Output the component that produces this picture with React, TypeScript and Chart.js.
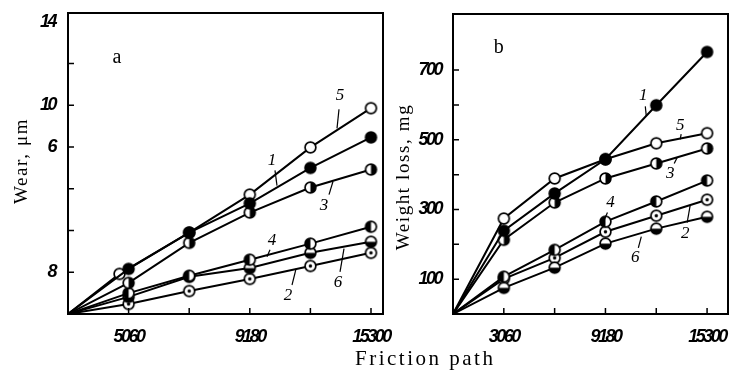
import React, { useEffect, useRef } from "react";
import { Chart, registerables } from "chart.js";

Chart.register(...registerables);

// ---- Data (friction path on x) ----
const pathX = [0, 3060, 6120, 9180, 12240, 15300];
const pathXa5 = [0, 2600, 6120, 9180, 12240, 15300];

// Panel a: wear, µm (curves 1..6)
const wearA1 = [0, 2.16, 3.9, 5.3, 7.0, 8.46];
const wearA2 = [0, 0.48, 1.1, 1.68, 2.3, 2.93];
const wearA3 = [0, 1.49, 3.41, 4.86, 6.06, 6.92];
const wearA4 = [0, 1.0, 1.83, 2.6, 3.37, 4.18];
const wearA5 = [0, 1.92, 3.9, 5.72, 7.98, 9.86];
const wearA6 = [0, 0.82, 1.78, 2.2, 2.93, 3.46];

// Panel b: weight loss, mg (curves 1..6)
const lossB1 = [0, 239, 346, 444, 599, 752];
const lossB2 = [0, 101, 161, 236, 282, 328];
const lossB3 = [0, 213, 320, 389, 432, 475];
const lossB4 = [0, 107, 184, 265, 323, 383];
const lossB5 = [0, 274, 389, 444, 490, 519];
const lossB6 = [0, 75, 133, 202, 245, 279];

// Tick values and labels as printed
const xTickValues = [3060, 6120, 9180, 12240, 15300];
const xTickLabelsA: Record<number, string> = { 3060: "5060", 9180: "9180", 15300: "15300" };
const xTickLabelsB: Record<number, string> = { 3060: "3060", 9180: "9180", 15300: "15300" };
const yTickValuesA = [2, 4, 6, 8, 10, 12, 14];
const yTickLabelsA: Record<number, string> = { 14: "14", 10: "10", 8: "6", 2: "8" };
const yTickValuesB = [100, 200, 300, 400, 500, 600, 700];
const yTickLabelsB: Record<number, string> = { 700: "700", 500: "500", 300: "300", 100: "100" };

const curveNames = ["1", "2", "3", "4", "5", "6"];

// curve number annotations: [text, x, y, leader x1, y1, x2, y2] in data units
const notesA: [string, number, number, number, number, number, number][] = [
  ["5", 13735, 10.48, 13684, 9.81, 13583, 8.89],
  ["1", 10301, 7.36, 10452, 6.88, 10553, 6.15],
  ["3", 12927, 5.19, 13179, 5.72, 13381, 6.35],
  ["4", 10301, 3.51, 10200, 3.08, 10048, 2.74],
  ["6", 13634, 1.49, 13735, 2.02, 13937, 3.13],
  ["2", 11109, 0.87, 11311, 1.39, 11513, 2.16],
];
const notesB: [string, number, number, number, number, number, number][] = [
  ["1", 11460, 628, 11580, 596, 11640, 568],
  ["5", 13680, 542, 13740, 516, 13680, 501],
  ["3", 13080, 403, 13320, 432, 13500, 449],
  ["4", 9480, 320, 9300, 291, 9060, 265],
  ["2", 13980, 230, 14100, 262, 14280, 311],
  ["6", 10980, 161, 11160, 190, 11340, 222],
];

const TICK_FONT = {
  family: "'Liberation Sans', 'DejaVu Sans', sans-serif",
  size: 18,
  style: "italic" as const,
  weight: "bold" as const,
};
const SERIF = "'Liberation Serif', 'DejaVu Serif', serif";

function makeMarker(kind: string): HTMLCanvasElement {
  const c = document.createElement("canvas");
  c.width = 15;
  c.height = 15;
  const g = c.getContext("2d")!;
  const cx = 7.5, cy = 7.5, r = 5.4;
  g.fillStyle = "#fff";
  g.beginPath();
  g.arc(cx, cy, r, 0, Math.PI * 2);
  g.fill();
  g.fillStyle = "#000";
  if (kind === "filled") {
    g.beginPath();
    g.arc(cx, cy, r, 0, Math.PI * 2);
    g.fill();
  } else if (kind === "right") {
    g.beginPath();
    g.arc(cx, cy, r, -Math.PI / 2, Math.PI / 2);
    g.closePath();
    g.fill();
  } else if (kind === "left") {
    g.beginPath();
    g.arc(cx, cy, r, Math.PI / 2, (3 * Math.PI) / 2);
    g.closePath();
    g.fill();
  } else if (kind === "bottom") {
    g.beginPath();
    g.arc(cx, cy, r, 0, Math.PI);
    g.closePath();
    g.fill();
  } else if (kind === "dot") {
    g.beginPath();
    g.arc(cx, cy, 1.7, 0, Math.PI * 2);
    g.fill();
  }
  g.strokeStyle = "#000";
  g.lineWidth = 1.7;
  g.beginPath();
  g.arc(cx, cy, r, 0, Math.PI * 2);
  g.stroke();
  return c;
}

type Note = [string, number, number, number, number, number, number];
type PanelSpec = {
  series: { name: string; xs: number[]; ys: number[]; marker: string }[];
  xMax: number;
  yMax: number;
  xLabels: Record<number, string>;
  yValues: number[];
  yLabels: Record<number, string>;
  notes: Note[];
  panelLetter: string;
  letterPos: [number, number];
  yTitle: string;
  yTitlePos: [number, number];
  padding: { left: number; top: number; right: number; bottom: number };
  yWidth: number;
  xHeight: number;
  yPad: number;
};

function buildChart(canvas: HTMLCanvasElement, spec: PanelSpec) {
  const markers: Record<string, HTMLCanvasElement> = {};
  ["filled", "open", "right", "left", "bottom", "dot"].forEach((k) => (markers[k] = makeMarker(k)));

  const datasets = spec.series.map((s) => ({
    label: s.name,
    data: s.xs.map((x, i) => ({ x, y: s.ys[i] })),
    borderColor: "#000",
    borderWidth: 2,
    pointStyle: markers[s.marker],
    pointRadius: (ctx: any) => (ctx.dataIndex === 0 ? 0 : 6),
    tension: 0,
    fill: false,
  }));

  const deco = {
    id: "deco",
    beforeDraw(chart: any) {
      // condensed look of the printed tick numerals
      (chart.ctx as any).letterSpacing = "-2.5px";
    },
    beforeDatasetsDraw(chart: any) {
      (chart.ctx as any).letterSpacing = "0px";
    },
    afterDraw(chart: any) {
      const { ctx, chartArea } = chart;
      const xs = chart.scales.x;
      const ys = chart.scales.y;
      ctx.save();
      (ctx as any).letterSpacing = "0px";
      ctx.strokeStyle = "#000";
      ctx.lineWidth = 2;
      ctx.strokeRect(chartArea.left, chartArea.top, chartArea.right - chartArea.left, chartArea.bottom - chartArea.top);
      ctx.lineWidth = 1.5;
      ctx.beginPath();
      xs.ticks.forEach((t: any) => {
        const px = xs.getPixelForValue(t.value);
        ctx.moveTo(px, chartArea.bottom);
        ctx.lineTo(px, chartArea.bottom - 6);
      });
      ys.ticks.forEach((t: any) => {
        const py = ys.getPixelForValue(t.value);
        if (py < chartArea.top + 12) return;
        ctx.moveTo(chartArea.left, py);
        ctx.lineTo(chartArea.left + 6, py);
      });
      ctx.stroke();

      // curve number labels with leaders
      ctx.fillStyle = "#000";
      ctx.font = `italic 17px ${SERIF}`;
      ctx.textAlign = "center";
      ctx.textBaseline = "middle";
      ctx.lineWidth = 1.2;
      spec.notes.forEach(([t, x, y, x1, y1, x2, y2]) => {
        ctx.fillText(t, xs.getPixelForValue(x), ys.getPixelForValue(y));
        ctx.beginPath();
        ctx.moveTo(xs.getPixelForValue(x1), ys.getPixelForValue(y1));
        ctx.lineTo(xs.getPixelForValue(x2), ys.getPixelForValue(y2));
        ctx.stroke();
      });

      // panel letter
      ctx.font = `20px ${SERIF}`;
      ctx.fillText(spec.panelLetter, xs.getPixelForValue(spec.letterPos[0]), ys.getPixelForValue(spec.letterPos[1]));

      // y title
      ctx.translate(spec.yTitlePos[0], spec.yTitlePos[1]);
      ctx.rotate(-Math.PI / 2);
      ctx.font = `19px ${SERIF}`;
      (ctx as any).letterSpacing = "1.6px";
      ctx.fillText(spec.yTitle, 0, 0);
      ctx.restore();
    },
  };

  return new Chart(canvas, {
    type: "line",
    data: { datasets },
    options: {
      animation: false,
      responsive: false,
      maintainAspectRatio: false,
      events: [],
      layout: { padding: spec.padding, autoPadding: false },
      plugins: { legend: { display: false }, tooltip: { enabled: false } },
      scales: {
        x: {
          type: "linear",
          position: "bottom",
          min: 0,
          max: spec.xMax,
          grid: { display: false, drawTicks: false },
          border: { display: false },
          afterBuildTicks: (s: any) => {
            s.ticks = xTickValues.map((v) => ({ value: v }));
          },
          ticks: {
            display: true,
            autoSkip: false,
            maxRotation: 0,
            minRotation: 0,
            padding: 12,
            color: "#000",
            font: TICK_FONT,
            callback: (v: any) => spec.xLabels[Math.round(Number(v))] ?? "",
          },
          afterFit: (s: any) => {
            s.height = spec.xHeight;
            s.paddingLeft = 0;
            s.paddingRight = 0;
          },
        },
        y: {
          type: "linear",
          position: "left",
          min: 0,
          max: spec.yMax,
          grid: { display: false, drawTicks: false },
          border: { display: false },
          afterBuildTicks: (s: any) => {
            s.ticks = spec.yValues.map((v) => ({ value: v }));
          },
          ticks: {
            autoSkip: false,
            padding: spec.yPad,
            color: "#000",
            font: TICK_FONT,
            callback: (v: any) => spec.yLabels[Math.round(Number(v))] ?? "",
          },
          afterFit: (s: any) => {
            s.width = spec.yWidth;
            s.paddingTop = 0;
            s.paddingBottom = 0;
          },
        },
      },
    },
    plugins: [deco],
  } as any);
}

export default function App() {
  const refA = useRef<HTMLCanvasElement>(null);
  const refB = useRef<HTMLCanvasElement>(null);

  useEffect(() => {
    const specA: PanelSpec = {
      series: [
        { name: curveNames[0], xs: pathX, ys: wearA1, marker: "filled" },
        { name: curveNames[4], xs: pathXa5, ys: wearA5, marker: "open" },
        { name: curveNames[2], xs: pathX, ys: wearA3, marker: "right" },
        { name: curveNames[3], xs: pathX, ys: wearA4, marker: "left" },
        { name: curveNames[5], xs: pathX, ys: wearA6, marker: "bottom" },
        { name: curveNames[1], xs: pathX, ys: wearA2, marker: "dot" },
      ],
      xMax: 15906,
      yMax: 14.42,
      xLabels: xTickLabelsA,
      yValues: yTickValuesA,
      yLabels: yTickLabelsA,
      notes: notesA,
      panelLetter: "a",
      letterPos: [2474, 12.3],
      yTitle: "Wear, \u03bcm",
      yTitlePos: [22, 161],
      padding: { left: 0, top: 13, right: 9, bottom: 0 },
      yWidth: 68,
      xHeight: 57,
      yPad: 13,
    };
    const specB: PanelSpec = {
      series: [
        { name: curveNames[0], xs: pathX, ys: lossB1, marker: "filled" },
        { name: curveNames[4], xs: pathX, ys: lossB5, marker: "open" },
        { name: curveNames[2], xs: pathX, ys: lossB3, marker: "right" },
        { name: curveNames[3], xs: pathX, ys: lossB4, marker: "left" },
        { name: curveNames[5], xs: pathX, ys: lossB6, marker: "bottom" },
        { name: curveNames[1], xs: pathX, ys: lossB2, marker: "dot" },
      ],
      xMax: 16560,
      yMax: 861,
      xLabels: xTickLabelsB,
      yValues: yTickValuesB,
      yLabels: yTickLabelsB,
      notes: notesB,
      panelLetter: "b",
      letterPos: [2760, 763],
      yTitle: "Weight loss, mg",
      yTitlePos: [12, 177],
      padding: { left: 0, top: 14, right: 1, bottom: 0 },
      yWidth: 61,
      xHeight: 57,
      yPad: 12,
    };
    const a = buildChart(refA.current!, specA);
    const b = buildChart(refB.current!, specB);
    return () => {
      a.destroy();
      b.destroy();
    };
  }, []);

  return (
    <div style={{ position: "fixed", left: 0, top: 0, width: 729, height: 371, background: "#fff", overflow: "hidden" }}>
      <canvas ref={refA} width={392} height={371} style={{ position: "absolute", left: 0, top: 0, width: 392, height: 371 }} />
      <canvas ref={refB} width={337} height={371} style={{ position: "absolute", left: 392, top: 0, width: 337, height: 371 }} />
      <div
        style={{
          position: "absolute",
          left: 355,
          top: 346,
          fontFamily: SERIF,
          fontSize: 21,
          letterSpacing: "2.5px",
          lineHeight: "24px",
          color: "#000",
          whiteSpace: "nowrap",
        }}
      >
        Friction path
      </div>
    </div>
  );
}
